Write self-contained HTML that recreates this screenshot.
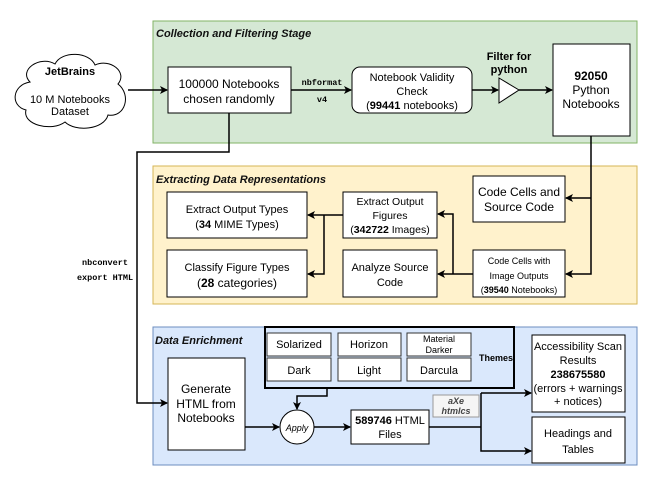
<!DOCTYPE html>
<html><head><meta charset="utf-8"><style>
body{margin:0;background:#fff;}
svg{display:block;font-family:"Liberation Sans",sans-serif;}
</style></head><body>
<svg width="653" height="481" viewBox="0 0 653 481" xmlns="http://www.w3.org/2000/svg">
<defs>
<marker id="a" markerWidth="8" markerHeight="8" refX="7" refY="4" orient="auto" markerUnits="userSpaceOnUse">
<path d="M0,0 L8,4 L0,8 L2,4 z" fill="#000"/></marker>
</defs>
<rect x="153" y="21" width="484" height="122" fill="#d5e8d4" stroke="#82b366"/>
<rect x="153" y="166" width="484" height="138" fill="#fff2cc" stroke="#d6b656"/>
<rect x="153" y="327" width="484" height="138" fill="#dae8fc" stroke="#6c8ebf"/>
<g font-size="11" font-weight="bold" font-style="italic" fill="#111">
<text x="156" y="37">Collection and Filtering Stage</text>
<text x="156" y="183">Extracting Data Representations</text>
<text x="155" y="344">Data Enrichment</text>
</g>
<path d="M30,82 C18,70 40,55 55,64 C62,50 90,52 95,65 C110,58 128,72 118,84 C132,95 125,118 108,115 C104,130 75,132 65,122 C52,132 22,125 26,110 C10,106 12,85 30,82 z" fill="#fff" stroke="#000"/>
<g font-size="11" text-anchor="middle" fill="#000">
<text x="70" y="75" font-weight="bold">JetBrains</text>
<text x="70" y="103">10 M Notebooks</text>
<text x="70" y="115">Dataset</text>
</g>
<g fill="#fff" stroke="#000">
<rect x="168" y="67" width="123" height="46"/>
<rect x="352" y="67" width="120" height="46" rx="8"/>
<polygon points="499,78 519,90 499,103"/>
<rect x="553" y="44" width="77" height="92"/>
<rect x="167" y="192" width="140" height="46"/>
<rect x="167" y="250" width="140" height="47"/>
<rect x="343" y="192" width="94" height="46"/>
<rect x="343" y="250" width="94" height="47"/>
<rect x="473" y="176" width="92" height="46"/>
<rect x="473" y="250" width="92" height="47"/>
<rect x="168" y="358" width="77" height="92"/>
<ellipse cx="297" cy="427" rx="17" ry="17"/>
<rect x="351" y="410" width="78" height="34"/>
<rect x="532" y="335" width="93" height="77"/>
<rect x="532" y="417" width="93" height="46"/>
</g>
<rect x="265" y="327" width="249" height="61" fill="#dae8fc" stroke="#000" stroke-width="2"/>
<g fill="#fff" stroke="#333">
<rect x="267" y="333" width="64" height="23"/><rect x="338" y="333" width="63" height="23"/><rect x="407" y="333" width="64" height="23"/>
<rect x="267" y="358" width="64" height="23"/><rect x="338" y="358" width="63" height="23"/><rect x="407" y="358" width="64" height="23"/>
</g>
<rect x="433" y="395" width="46" height="22" fill="#f5f5f5" stroke="#999"/>
<g stroke="#000" stroke-width="1.5" fill="none">
<path d="M128,90 H167" marker-end="url(#a)"/>
<path d="M291,90 H351" marker-end="url(#a)"/>
<path d="M472,90 H498" marker-end="url(#a)"/>
<path d="M519,90 H552" marker-end="url(#a)"/>
<path d="M591,136 V274 H566" marker-end="url(#a)"/>
<path d="M591,198 H566" marker-end="url(#a)"/>
<path d="M473,274 H438" marker-end="url(#a)"/>
<path d="M453,274 V214 H438" marker-end="url(#a)"/>
<path d="M343,215 H308" marker-end="url(#a)"/>
<path d="M324,215 V274 H308" marker-end="url(#a)"/>
<path d="M229,113 V152 H137 V403 H167" marker-end="url(#a)"/>
<path d="M327,388 V396 H297 V409" marker-end="url(#a)"/>
<path d="M245,427 H279" marker-end="url(#a)"/>
<path d="M314,427 H350" marker-end="url(#a)"/>
<path d="M429,427 H481"/>
<path d="M481,393 V451 H531" marker-end="url(#a)"/>
<path d="M481,393 H531" marker-end="url(#a)"/>
</g>
<g font-size="12" text-anchor="middle" fill="#000">
<text x="229" y="88">100000 Notebooks</text>
<text x="229" y="103">chosen randomly</text>
<text x="412" y="81" font-size="11">Notebook Validity</text>
<text x="412" y="95" font-size="11">Check</text>
<text x="412" y="109" font-size="11">(<tspan font-weight="bold">99441</tspan> notebooks)</text>
<text x="509" y="60" font-size="11" font-weight="bold">Filter for</text>
<text x="509" y="73" font-size="11" font-weight="bold">python</text>
<text x="591" y="80" font-weight="bold">92050</text>
<text x="591" y="94">Python</text>
<text x="591" y="108">Notebooks</text>
<text x="237" y="213" font-size="11">Extract Output Types</text>
<text x="237" y="228" font-size="11">(<tspan font-weight="bold">34</tspan> MIME Types)</text>
<text x="237" y="271" font-size="11">Classify Figure Types</text>
<text x="237" y="287">(<tspan font-weight="bold">28</tspan> categories)</text>
<text x="390" y="205" font-size="10.5">Extract Output</text>
<text x="390" y="219" font-size="10.5">Figures</text>
<text x="390" y="233" font-size="10.5">(<tspan font-weight="bold">342722</tspan> Images)</text>
<text x="390" y="271" font-size="11">Analyze Source</text>
<text x="390" y="286" font-size="11">Code</text>
<text x="519" y="196">Code Cells and</text>
<text x="519" y="211">Source Code</text>
<text x="519" y="264" font-size="9">Code Cells with</text>
<text x="519" y="279" font-size="9">Image Outputs</text>
<text x="519" y="293" font-size="9">(<tspan font-weight="bold">39540</tspan> Notebooks)</text>
<text x="299" y="348" font-size="11">Solarized</text>
<text x="369" y="348" font-size="11">Horizon</text>
<text x="439" y="342" font-size="9">Material</text>
<text x="439" y="353" font-size="9">Darker</text>
<text x="299" y="374" font-size="11">Dark</text>
<text x="369" y="374" font-size="11">Light</text>
<text x="439" y="374" font-size="11">Darcula</text>
<text x="496" y="361" font-size="9" font-weight="bold">Themes</text>
<text x="206" y="393">Generate</text>
<text x="206" y="408">HTML from</text>
<text x="206" y="422">Notebooks</text>
<text x="297" y="431" font-size="9" font-style="italic">Apply</text>
<text x="390" y="424" font-size="11"><tspan font-weight="bold">589746</tspan> HTML</text>
<text x="390" y="438" font-size="11">Files</text>
<text x="456" y="404" font-size="9" font-weight="bold" font-style="italic" fill="#444">aXe</text>
<text x="456" y="414" font-size="9" font-weight="bold" font-style="italic" fill="#444">htmlcs</text>
<text x="578" y="350" font-size="11">Accessibility Scan</text>
<text x="578" y="364" font-size="11">Results</text>
<text x="578" y="378" font-size="11" font-weight="bold">238675580</text>
<text x="578" y="392" font-size="11">(errors + warnings</text>
<text x="578" y="405" font-size="11">+ notices)</text>
<text x="578" y="437" font-size="11">Headings and</text>
<text x="578" y="453" font-size="11">Tables</text>
</g>
<g font-family="Liberation Mono,monospace" font-size="8.5" font-weight="bold" text-anchor="middle" fill="#000">
<text x="322" y="85">nbformat</text>
<text x="322" y="102">v4</text>
<text x="105" y="265">nbconvert</text>
<text x="105" y="280">export HTML</text>
</g>
</svg>
</body></html>
